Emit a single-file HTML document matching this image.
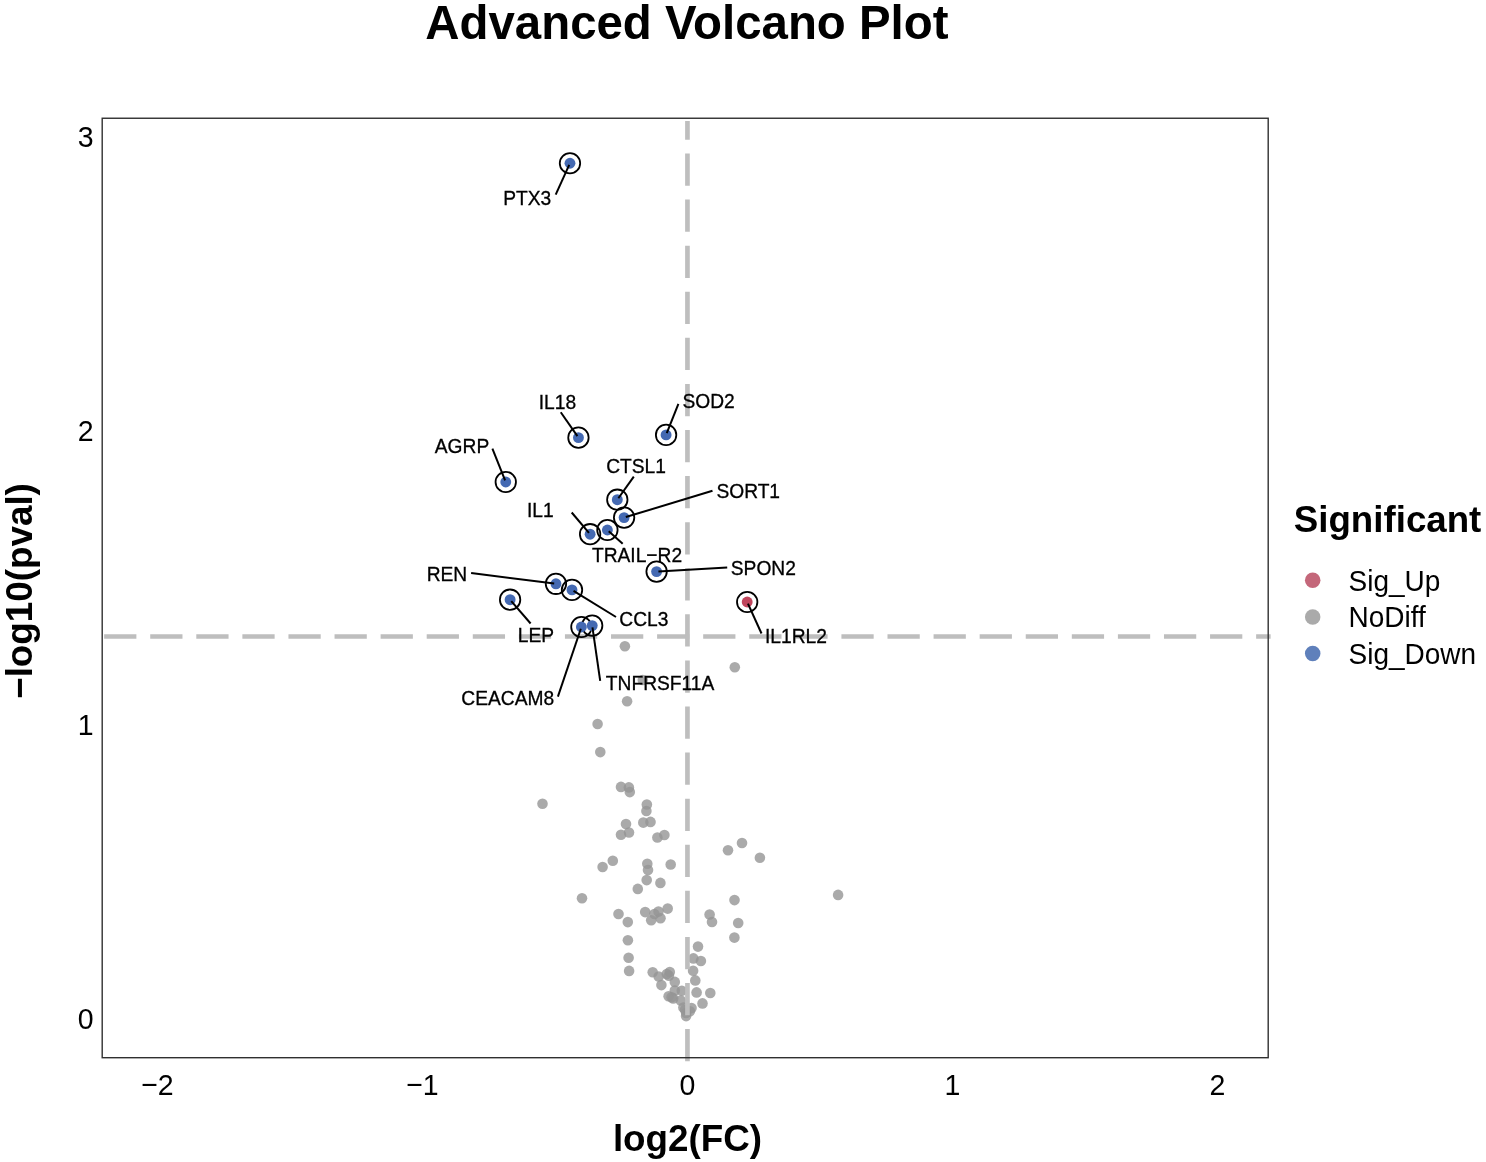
<!DOCTYPE html>
<html lang="en"><head><meta charset="utf-8"><title>Advanced Volcano Plot</title>
<style>
html,body{margin:0;padding:0;background:#ffffff;}
body{width:1486px;height:1162px;overflow:hidden;font-family:"Liberation Sans",sans-serif;}
svg{display:block;will-change:transform;}
svg text{font-family:"Liberation Sans",sans-serif;fill:#000;}
.tick{font-size:28.5px;}
.lab{font-size:19.2px;stroke:#000;stroke-width:0.3px;}
.axt{font-size:36.8px;font-weight:bold;}
.ttl{font-size:47.4px;font-weight:bold;}
.leg{font-size:28px;}
.legt{font-size:36.7px;font-weight:bold;}
</style></head><body>
<svg width="1486" height="1162" viewBox="0 0 1486 1162">
<rect x="0" y="0" width="1486" height="1162" fill="#ffffff"/>
<text class="ttl" x="686.9" y="39.0" text-anchor="middle">Advanced Volcano Plot</text>
<g fill="#959595" fill-opacity="0.8">
<circle cx="624.90" cy="646.30" r="5.3"/>
<circle cx="734.80" cy="667.30" r="5.3"/>
<circle cx="642.80" cy="680.00" r="5.3"/>
<circle cx="627.10" cy="701.20" r="5.3"/>
<circle cx="597.60" cy="724.00" r="5.3"/>
<circle cx="600.30" cy="752.10" r="5.3"/>
<circle cx="621.00" cy="786.90" r="5.3"/>
<circle cx="628.90" cy="787.40" r="5.3"/>
<circle cx="629.80" cy="792.10" r="5.3"/>
<circle cx="542.50" cy="803.70" r="5.3"/>
<circle cx="646.85" cy="804.50" r="5.3"/>
<circle cx="646.40" cy="811.00" r="5.3"/>
<circle cx="626.00" cy="824.00" r="5.3"/>
<circle cx="643.30" cy="822.60" r="5.3"/>
<circle cx="650.50" cy="821.90" r="5.3"/>
<circle cx="629.00" cy="832.50" r="5.3"/>
<circle cx="621.00" cy="834.80" r="5.3"/>
<circle cx="657.40" cy="837.50" r="5.3"/>
<circle cx="664.40" cy="835.00" r="5.3"/>
<circle cx="742.00" cy="843.00" r="5.3"/>
<circle cx="728.00" cy="850.20" r="5.3"/>
<circle cx="759.90" cy="857.80" r="5.3"/>
<circle cx="612.80" cy="860.80" r="5.3"/>
<circle cx="602.60" cy="867.00" r="5.3"/>
<circle cx="647.30" cy="863.70" r="5.3"/>
<circle cx="648.00" cy="870.00" r="5.3"/>
<circle cx="670.70" cy="864.50" r="5.3"/>
<circle cx="646.70" cy="880.10" r="5.3"/>
<circle cx="660.40" cy="882.90" r="5.3"/>
<circle cx="637.80" cy="888.90" r="5.3"/>
<circle cx="582.00" cy="898.30" r="5.3"/>
<circle cx="734.50" cy="900.10" r="5.3"/>
<circle cx="838.10" cy="894.90" r="5.3"/>
<circle cx="667.70" cy="908.60" r="5.3"/>
<circle cx="645.20" cy="912.10" r="5.3"/>
<circle cx="658.50" cy="911.60" r="5.3"/>
<circle cx="654.40" cy="914.00" r="5.3"/>
<circle cx="618.50" cy="914.00" r="5.3"/>
<circle cx="660.50" cy="918.30" r="5.3"/>
<circle cx="651.20" cy="920.30" r="5.3"/>
<circle cx="627.80" cy="922.10" r="5.3"/>
<circle cx="709.60" cy="914.50" r="5.3"/>
<circle cx="712.00" cy="922.00" r="5.3"/>
<circle cx="738.20" cy="923.00" r="5.3"/>
<circle cx="734.40" cy="937.60" r="5.3"/>
<circle cx="627.90" cy="940.20" r="5.3"/>
<circle cx="698.00" cy="946.60" r="5.3"/>
<circle cx="628.60" cy="957.80" r="5.3"/>
<circle cx="693.40" cy="958.40" r="5.3"/>
<circle cx="700.90" cy="961.00" r="5.3"/>
<circle cx="629.10" cy="970.90" r="5.3"/>
<circle cx="693.10" cy="970.70" r="5.3"/>
<circle cx="652.70" cy="972.20" r="5.3"/>
<circle cx="669.80" cy="972.00" r="5.3"/>
<circle cx="658.70" cy="976.50" r="5.3"/>
<circle cx="666.80" cy="974.10" r="5.3"/>
<circle cx="668.90" cy="975.80" r="5.3"/>
<circle cx="674.80" cy="981.90" r="5.3"/>
<circle cx="695.30" cy="980.40" r="5.3"/>
<circle cx="661.40" cy="985.10" r="5.3"/>
<circle cx="674.80" cy="990.50" r="5.3"/>
<circle cx="681.80" cy="990.80" r="5.3"/>
<circle cx="696.60" cy="992.40" r="5.3"/>
<circle cx="710.30" cy="993.00" r="5.3"/>
<circle cx="668.60" cy="996.20" r="5.3"/>
<circle cx="673.20" cy="998.40" r="5.3"/>
<circle cx="680.80" cy="1000.50" r="5.3"/>
<circle cx="702.50" cy="1003.40" r="5.3"/>
<circle cx="671.60" cy="997.30" r="5.3"/>
<circle cx="683.40" cy="1007.50" r="5.3"/>
<circle cx="686.10" cy="1012.90" r="5.3"/>
<circle cx="691.50" cy="1008.10" r="5.3"/>
<circle cx="685.10" cy="1009.70" r="5.3"/>
<circle cx="689.90" cy="1011.30" r="5.3"/>
<circle cx="686.10" cy="1016.10" r="5.3"/>
</g>
<g stroke="#bebebe" stroke-width="4.65" fill="none" stroke-dasharray="32.25 13.83">
<line x1="104.14" y1="636.5" x2="1270.6" y2="636.5"/>
<line x1="687.45" y1="1061.3" x2="687.45" y2="121.0"/>
</g>
<rect x="102.20" y="118.25" width="1166.00" height="939.45" fill="none" stroke="#303030" stroke-width="1.4"/>
<g fill="none" stroke="#000000" stroke-width="1.8">
<circle cx="569.97" cy="163.27" r="10.2"/>
<circle cx="505.76" cy="481.99" r="10.2"/>
<circle cx="578.44" cy="437.66" r="10.2"/>
<circle cx="666.10" cy="434.90" r="10.2"/>
<circle cx="617.30" cy="499.70" r="10.2"/>
<circle cx="624.10" cy="517.60" r="10.2"/>
<circle cx="590.10" cy="534.20" r="10.2"/>
<circle cx="607.40" cy="530.00" r="10.2"/>
<circle cx="656.60" cy="571.60" r="10.2"/>
<circle cx="555.95" cy="583.80" r="10.2"/>
<circle cx="572.00" cy="589.90" r="10.2"/>
<circle cx="510.10" cy="599.70" r="10.2"/>
<circle cx="581.40" cy="627.00" r="10.2"/>
<circle cx="592.20" cy="625.60" r="10.2"/>
<circle cx="747.20" cy="602.00" r="10.2"/>
</g>
<g>
<circle cx="569.97" cy="163.27" r="5.45" fill="#4469b2"/>
<circle cx="505.76" cy="481.99" r="5.45" fill="#4469b2"/>
<circle cx="578.44" cy="437.66" r="5.45" fill="#4469b2"/>
<circle cx="666.10" cy="434.90" r="5.45" fill="#4469b2"/>
<circle cx="617.30" cy="499.70" r="5.45" fill="#4469b2"/>
<circle cx="624.10" cy="517.60" r="5.45" fill="#4469b2"/>
<circle cx="590.10" cy="534.20" r="5.45" fill="#4469b2"/>
<circle cx="607.40" cy="530.00" r="5.45" fill="#4469b2"/>
<circle cx="656.60" cy="571.60" r="5.45" fill="#4469b2"/>
<circle cx="555.95" cy="583.80" r="5.45" fill="#4469b2"/>
<circle cx="572.00" cy="589.90" r="5.45" fill="#4469b2"/>
<circle cx="510.10" cy="599.70" r="5.45" fill="#4469b2"/>
<circle cx="581.40" cy="627.00" r="5.45" fill="#4469b2"/>
<circle cx="592.20" cy="625.60" r="5.45" fill="#4469b2"/>
<circle cx="747.20" cy="602.00" r="5.45" fill="#c0455c"/>
</g>
<g stroke="#000000" stroke-width="2" stroke-linecap="butt">
<line x1="555.70" y1="194.60" x2="569.22" y2="164.91"/>
<line x1="492.40" y1="448.70" x2="505.09" y2="480.32"/>
<line x1="560.75" y1="412.20" x2="577.41" y2="436.18"/>
<line x1="678.40" y1="403.90" x2="666.76" y2="433.23"/>
<line x1="633.80" y1="476.60" x2="618.35" y2="498.24"/>
<line x1="712.50" y1="490.80" x2="625.82" y2="517.08"/>
<line x1="571.70" y1="512.50" x2="588.94" y2="532.83"/>
<line x1="622.70" y1="543.70" x2="608.74" y2="531.20"/>
<line x1="727.20" y1="567.50" x2="658.40" y2="571.50"/>
<line x1="471.10" y1="573.10" x2="554.16" y2="583.57"/>
<line x1="616.00" y1="617.00" x2="573.53" y2="590.84"/>
<line x1="530.60" y1="623.50" x2="511.27" y2="601.06"/>
<line x1="557.90" y1="696.60" x2="580.82" y2="628.71"/>
<line x1="600.20" y1="680.90" x2="592.46" y2="627.38"/>
<line x1="761.50" y1="633.50" x2="747.94" y2="603.64"/>
</g>
<g class="lab">
<text transform="translate(503.14 204.90) scale(1 1.07)">PTX3</text>
<text transform="translate(434.80 453.30) scale(1 1.07)">AGRP</text>
<text transform="translate(538.77 409.40) scale(1 1.07)">IL18</text>
<text transform="translate(682.50 408.40) scale(1 1.07)">SOD2</text>
<text transform="translate(606.14 473.10) scale(1 1.07)">CTSL1</text>
<text transform="translate(716.40 498.00) scale(1 1.07)">SORT1</text>
<text transform="translate(526.97 517.10) scale(1 1.07)">IL1</text>
<text transform="translate(591.92 561.70) scale(1 1.07)">TRAIL−R2</text>
<text transform="translate(730.80 574.80) scale(1 1.07)">SPON2</text>
<text transform="translate(426.66 580.90) scale(1 1.07)">REN</text>
<text transform="translate(619.34 625.80) scale(1 1.07)">CCL3</text>
<text transform="translate(517.74 641.60) scale(1 1.07)">LEP</text>
<text transform="translate(461.34 705.40) scale(1 1.07)">CEACAM8</text>
<text transform="translate(605.82 689.90) scale(1 1.07)">TNFRSF11A</text>
<text transform="translate(764.97 643.30) scale(1 1.07)">IL1RL2</text>
</g>
<g class="tick">
<text transform="translate(93.5 1028.70) scale(1 1.06)" text-anchor="end">0</text>
<text transform="translate(93.5 734.93) scale(1 1.06)" text-anchor="end">1</text>
<text transform="translate(93.5 441.16) scale(1 1.06)" text-anchor="end">2</text>
<text transform="translate(93.5 147.39) scale(1 1.06)" text-anchor="end">3</text>
<text transform="translate(157.40 1095.3) scale(1 1.06)" text-anchor="middle">−2</text>
<text transform="translate(422.40 1095.3) scale(1 1.06)" text-anchor="middle">−1</text>
<text transform="translate(687.40 1095.3) scale(1 1.06)" text-anchor="middle">0</text>
<text transform="translate(952.40 1095.3) scale(1 1.06)" text-anchor="middle">1</text>
<text transform="translate(1217.40 1095.3) scale(1 1.06)" text-anchor="middle">2</text>
</g>
<text class="axt" x="687.5" y="1150.5" text-anchor="middle">log2(FC)</text>
<text class="axt" transform="translate(31.6 591.0) rotate(-90)" text-anchor="middle">−log10(pval)</text>
<text class="legt" x="1293.8" y="531.6">Significant</text>
<circle cx="1312.7" cy="580.25" r="7.75" fill="#c4677a"/>
<text class="leg" transform="translate(1348.6 590.80) scale(1 1.04)">Sig_Up</text>
<circle cx="1312.7" cy="616.90" r="7.75" fill="#aaaaaa"/>
<text class="leg" transform="translate(1348.6 626.90) scale(1 1.04)">NoDiff</text>
<circle cx="1312.7" cy="653.50" r="7.75" fill="#5f80bb"/>
<text class="leg" transform="translate(1348.6 663.90) scale(1 1.04)">Sig_Down</text>
</svg>
</body></html>
